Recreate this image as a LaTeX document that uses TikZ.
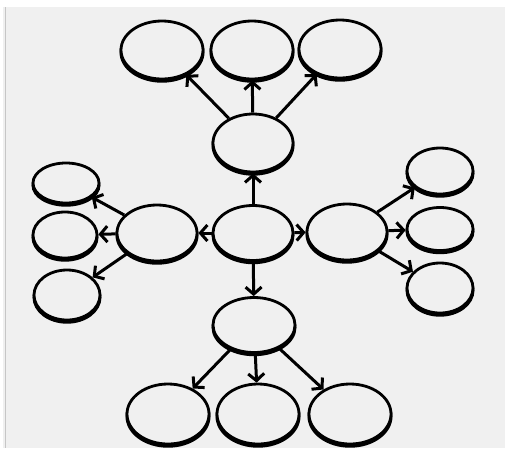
\documentclass[tikz,border=0pt]{standalone}
\usetikzlibrary{shapes.geometric,arrows.meta,shadows}
\colorlet{paper}{gray!12}
\tikzset{
  spoke/.style={line width=3pt, -{Straight Barb[length=7pt,width=16pt]}}
}
\begin{document}
\begin{tikzpicture}[x=1pt,y=-1pt,
  bubble/.style={draw, ellipse, line width=2.8pt, fill=paper, inner sep=0pt, minimum width=82pt, minimum height=58pt,
    copy shadow={shadow xshift=0pt, shadow yshift=-2.2pt, fill=paper, draw=black, line width=3pt}},
  small/.style={bubble, minimum width=66pt, minimum height=46pt}]
\useasboundingbox (0,0) rectangle (505,448);
\fill[paper] (3,7) rectangle (505,448);
\draw[gray!45, line width=1pt] (5,7) -- (5,448);

% centre and main branches
\node[bubble, minimum width=80pt, minimum height=55pt] (c) at (253,233) {};
\node[bubble, minimum width=80pt] (u) at (253,143) {};
\node[bubble, minimum height=55pt] (d) at (254,325) {};
\node[bubble, minimum width=80pt, minimum height=56pt] (l) at (157,233) {};
\node[bubble, minimum width=80pt, minimum height=56pt] (r) at (347,232) {};

% top row
\node[bubble] (u1) at (162,50) {};
\node[bubble] (u2) at (252,50) {};
\node[bubble] (u3) at (340,49) {};

% left column
\node[small, minimum height=40pt] (l1) at (66,183) {};
\node[small, minimum width=64pt] (l2) at (65,235) {};
\node[small, minimum height=50pt] (l3) at (67,295) {};

% right column
\node[small] (r1) at (440,171) {};
\node[small, minimum height=43pt] (r2) at (440,229) {};
\node[small, minimum height=50pt] (r3) at (440,288) {};

% bottom row
\node[bubble, minimum height=60pt] (d1) at (168,414) {};
\node[bubble, minimum height=60pt] (d2) at (258,414) {};
\node[bubble, minimum height=60pt] (d3) at (350,414) {};

\draw[spoke] (c) -- (u);
\draw[spoke] (c) -- (d);
\draw[spoke] (c) -- (l);
\draw[spoke] (c) -- (r);

\draw[spoke] (u) -- (u1);
\draw[spoke] (u) -- (u2);
\draw[spoke] (u) -- (u3);

\draw[spoke] (l) -- (l1);
\draw[spoke] (l) -- (l2);
\draw[spoke] (l) -- (l3);

\draw[spoke] (r) -- (r1);
\draw[spoke] (r) -- (r2);
\draw[spoke] (r) -- (r3);

\draw[spoke] (d) -- (d1);
\draw[spoke] (d) -- (d2);
\draw[spoke] (d) -- (d3);
\end{tikzpicture}
\end{document}
